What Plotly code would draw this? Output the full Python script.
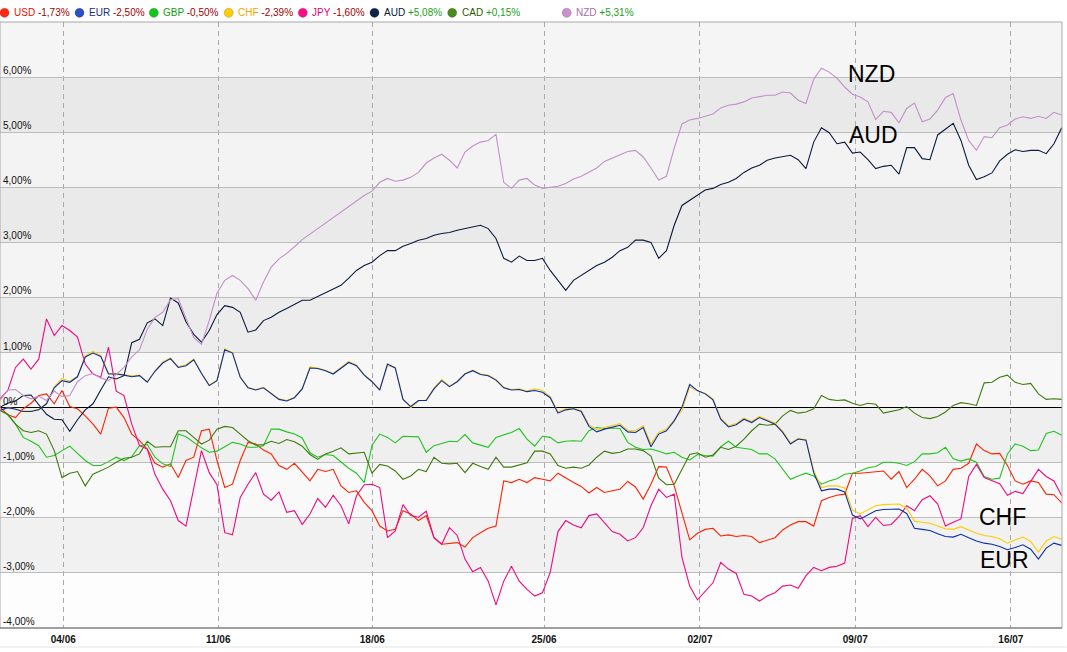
import plotly.graph_objects as go

# ---- data: % change per currency, one reading every quarter trading day ----
x_days = [k * 0.25 for k in range(138)]

usd = [0.01, -0.13, -0.18, -0.02, 0.08, 0.22, 0.25, 0.07, 0.31, 0.02, -0.02, -0.15, -0.3, -0.48, -0.01, 0.01, -0.18,
       -0.48, -0.6, -0.75, -1.01, -1.08, -1.02, -1.27, -0.96, -0.9, -0.42, -0.39, -0.96, -1.45, -1.39, -0.96, -0.63,
       -0.66, -0.77,
       -0.84, -1.05, -1.12, -1.01, -1.18, -1.33, -1.12, -1.16, -1.12, -1.42, -1.54, -1.51, -1.72, -1.87, -2.15, -2.24,
       -2.21, -1.87, -1.93, -2.05, -1.96, -2.36, -2.48, -2.47, -2.45, -2.53, -2.36, -2.27, -2.19, -2.15, -1.33, -1.36,
       -1.3, -1.36,
       -1.27, -1.3, -1.33, -1.19, -1.28, -1.36, -1.43, -1.55, -1.45, -1.54, -1.51, -1.48, -1.34, -1.44, -1.66, -1.39,
       -1.07, -1.08, -1.42, -1.9, -2.4, -2.28, -2.21, -2.19, -2.33, -2.31, -2.34, -2.32, -2.34, -2.45, -2.4, -2.36,
       -2.22, -2.13,
       -2.07, -2.07, -2.15, -1.69, -1.63, -1.59, -1.57, -1.19, -1.19, -1.18, -1.17, -1.15, -1.3, -1.16, -1.45, -1.3,
       -1.12, -1.24, -1.42, -1.33, -1.12, -1.1, -1.01, -0.66, -0.78, -0.84, -0.83, -1.05, -1.33, -1.39, -1.33, -1.36,
       -1.57, -1.58, -1.73]

eur = [-0.05, 0.0, -0.03, -0.07, -0.07, -0.04, 0.07, 0.36, 0.49, 0.46, 0.56, 0.92, 0.99, 0.93, 0.61, 0.61, 0.59, 0.56,
       0.58, 0.46, 0.66, 0.81, 0.89, 0.73, 0.76, 0.87, 0.62, 0.4, 0.49, 1.05, 0.99, 0.55, 0.36, 0.32, 0.36,
       0.25, 0.15, 0.12, 0.18, 0.34, 0.72, 0.71, 0.67, 0.61, 0.72, 0.82, 0.76, 0.59, 0.47, 0.32, 0.79, 0.72, 0.15,
       0.02, 0.13, 0.13, 0.34, 0.49, 0.38, 0.47, 0.61, 0.67, 0.6, 0.58, 0.5, 0.36, 0.32, 0.33, 0.29,
       0.31, 0.28, 0.18, -0.1, -0.04, -0.02, -0.07, -0.34, -0.44, -0.39, -0.36, -0.32, -0.44, -0.45, -0.36, -0.71,
       -0.48, -0.42, -0.24, 0.01, 0.42, 0.31, 0.25, 0.14, -0.21, -0.35, -0.31, -0.21, -0.27, -0.18, -0.24, -0.3,
       -0.45, -0.66,
       -0.57, -0.59, -1.18, -1.51, -1.48, -1.48, -1.53, -1.95, -2.02, -1.94, -1.87, -1.85, -1.85, -1.84, -1.92, -2.19,
       -2.21, -2.23, -2.29, -2.34, -2.35, -2.3, -2.36, -2.42, -2.46, -2.48, -2.52, -2.58, -2.54, -2.49, -2.57, -2.75,
       -2.55, -2.46, -2.5]

chf = [-0.05, 0.0, -0.02, -0.06, -0.06, -0.03, 0.08, 0.38, 0.53, 0.48, 0.57, 0.94, 1.02, 0.95, 0.62, 0.62, 0.6, 0.58,
       0.59, 0.47, 0.67, 0.83, 0.9, 0.74, 0.78, 0.88, 0.63, 0.41, 0.5, 1.07, 1.0, 0.56, 0.37, 0.33, 0.37,
       0.26, 0.16, 0.13, 0.19, 0.35, 0.74, 0.72, 0.68, 0.62, 0.73, 0.84, 0.77, 0.6, 0.48, 0.33, 0.76, 0.73, 0.16,
       0.0, 0.12, 0.14, 0.36, 0.51, 0.39, 0.48, 0.62, 0.68, 0.61, 0.59, 0.51, 0.37, 0.33, 0.34, 0.3,
       0.34, 0.31, 0.2, -0.08, -0.02, -0.01, -0.05, -0.31, -0.4, -0.36, -0.33, -0.29, -0.41, -0.42, -0.33, -0.66,
       -0.45, -0.39, -0.22, -0.05, 0.38, 0.3, 0.26, 0.16, -0.19, -0.33, -0.29, -0.19, -0.25, -0.16, -0.22, -0.28,
       -0.43, -0.64,
       -0.56, -0.58, -1.14, -1.45, -1.42, -1.42, -1.46, -1.86, -1.93, -1.85, -1.78, -1.76, -1.76, -1.75, -1.82, -2.06,
       -2.08, -2.1, -2.15, -2.2, -2.21, -2.16, -2.22, -2.28, -2.32, -2.34, -2.38, -2.46, -2.4, -2.35, -2.43, -2.62,
       -2.42, -2.34, -2.39]

gbp = [-0.05, -0.13, -0.3, -0.54, -0.61, -0.69, -0.9, -0.87, -0.78, -0.7, -0.83, -0.96, -1.05, -1.05, -0.98, -0.9,
       -0.96, -0.89, -0.69, -0.67, -0.9, -1.02, -1.07, -0.48, -0.53, -0.63, -0.73, -0.81, -0.79, -0.71, -0.63, -0.66,
       -0.72, -0.72, -0.69,
       -0.39, -0.39, -0.44, -0.48, -0.55, -0.82, -0.9, -0.85, -0.87, -0.99, -1.1, -1.19, -1.36, -0.68, -0.48, -0.54,
       -0.64, -0.52, -0.52, -0.53, -0.81, -0.69, -0.65, -0.61, -0.62, -0.49, -0.64, -0.68, -0.72, -0.54, -0.49, -0.45,
       -0.38, -0.57,
       -0.7, -0.52, -0.54, -0.64, -0.61, -0.6, -0.61, -0.42, -0.36, -0.38, -0.37, -0.38, -0.63, -0.72, -0.76, -0.75,
       -0.79, -0.84, -0.81, -0.9, -0.95, -0.85, -0.87, -0.88, -0.71, -0.61, -0.72, -0.74, -0.76, -0.84, -0.84, -0.93,
       -1.12, -1.3,
       -1.24, -1.19, -1.24, -1.39, -1.33, -1.29, -1.21, -1.19, -1.15, -1.09, -1.07, -0.99, -0.99, -1.01, -1.05, -0.98,
       -0.84, -0.84, -0.82, -0.72, -0.93, -0.97, -0.93, -0.99, -1.25, -1.3, -1.28, -0.84, -0.66, -0.7, -0.78, -0.77,
       -0.47, -0.43, -0.5]

jpy = [0.16, 0.31, 0.73, 0.88, 0.7, 0.88, 1.61, 1.31, 1.49, 1.4, 1.28, 0.79, 0.61, 0.55, 1.1, 0.3, 0.22, -0.3, -0.69,
       -0.75, -1.21, -1.48, -1.69, -2.05, -2.15, -1.45, -0.78, -1.18, -1.4, -2.27, -2.31, -1.63, -1.39, -1.18, -1.57,
       -1.68, -1.53, -1.9, -1.87, -2.12, -1.93, -1.65, -1.81, -1.59, -1.78, -2.11, -1.6, -1.4, -1.39, -1.45, -2.36,
       -2.24, -1.76, -1.96, -1.99, -1.88, -2.36, -2.48, -2.18, -2.32, -2.75, -2.98, -2.9, -3.15, -3.58, -3.15, -2.88,
       -3.15, -3.3,
       -3.42, -3.36, -2.99, -2.25, -2.05, -2.13, -2.18, -1.96, -1.93, -2.1, -2.25, -2.3, -2.42, -2.36, -2.18, -1.78,
       -1.48, -1.63, -1.57, -2.72, -3.24, -3.49, -3.33, -3.18, -2.81, -2.93, -3.01, -3.39, -3.42, -3.51, -3.42, -3.36,
       -3.24, -3.22,
       -3.28, -3.05, -2.9, -2.96, -2.9, -2.88, -2.82, -2.01, -1.96, -2.16, -1.99, -2.14, -2.12, -1.98, -1.78, -1.87,
       -1.67, -1.6, -1.75, -2.15, -2.08, -2.02, -1.25, -1.03, -1.27, -1.33, -1.38, -1.59, -1.52, -1.56, -1.33, -1.12,
       -1.25, -1.33, -1.6]

aud = [0.01, 0.08, 0.12, 0.22, 0.23, 0.05, -0.12, -0.21, -0.22, -0.43, -0.22, -0.04, 0.07, 0.32, 0.56, 0.52, 0.58,
       1.18, 1.24, 1.54, 1.61, 1.49, 1.99, 1.9, 1.56, 1.33, 1.19, 1.4, 1.69, 1.85, 1.82, 1.73, 1.37, 1.41, 1.58,
       1.64, 1.73, 1.8, 1.87, 1.95, 1.95, 2.02, 2.09, 2.16, 2.22, 2.35, 2.49, 2.58, 2.64, 2.76, 2.85, 2.85, 2.93,
       2.98, 3.04, 3.07, 3.13, 3.16, 3.18, 3.22, 3.25, 3.29, 3.31, 3.25, 3.07, 2.71, 2.64, 2.75, 2.67,
       2.67, 2.71, 2.49, 2.31, 2.13, 2.31, 2.4, 2.49, 2.58, 2.64, 2.73, 2.85, 2.91, 3.04, 3.04, 3.0, 2.71, 2.85,
       3.31, 3.67, 3.76, 3.85, 3.95, 3.98, 4.05, 4.09, 4.16, 4.27, 4.35, 4.4, 4.49, 4.53, 4.56, 4.58,
       4.5, 4.34, 4.82, 5.08, 4.99, 4.79, 4.82, 4.62, 4.64, 4.5, 4.34, 4.38, 4.4, 4.24, 4.72, 4.72, 4.52, 4.5, 4.95,
       5.05, 5.16, 4.85, 4.4, 4.14, 4.19, 4.26, 4.48, 4.6, 4.68, 4.65, 4.67, 4.67, 4.61, 4.79, 5.08]

cad = [-0.05, -0.12, -0.3, -0.42, -0.45, -0.42, -0.48, -0.78, -1.27, -1.19, -1.16, -1.42, -1.21, -1.15, -1.08, -0.99,
       -0.92, -0.9, -0.84, -0.61, -0.72, -0.71, -0.71, -0.42, -0.42, -0.54, -0.66, -0.59, -0.39, -0.34, -0.36, -0.48,
       -0.6, -0.68, -0.67,
       -0.61, -0.65, -0.58, -0.62, -0.7, -0.85, -0.94, -0.84, -0.79, -0.73, -0.84, -0.83, -0.81, -1.19, -1.03, -1.06,
       -1.15, -1.3, -1.24, -1.12, -1.16, -0.9, -1.01, -1.02, -1.01, -1.18, -1.01, -1.07, -1.12, -0.9, -1.08, -1.08,
       -1.04, -1.0,
       -0.79, -0.79, -0.84, -1.05, -1.1, -1.08, -1.1, -1.04, -0.9, -0.79, -0.83, -0.81, -0.75, -0.75, -0.78, -0.88,
       -1.28, -1.4, -1.39, -1.13, -0.85, -0.82, -0.9, -0.86, -0.72, -0.76, -0.7, -0.57, -0.42, -0.3, -0.32, -0.3,
       -0.15, -0.05,
       -0.1, -0.08, -0.02, 0.22, 0.15, 0.13, 0.14, 0.08, 0.04, 0.08, 0.06, -0.1, -0.07, -0.04, 0.02, -0.1, -0.18,
       -0.2, -0.16, -0.08, 0.04, 0.09, 0.07, 0.04, 0.45, 0.46, 0.55, 0.59, 0.46, 0.42, 0.44, 0.25, 0.15, 0.16, 0.15]

nzd = [0.13, 0.32, 0.33, 0.22, 0.16, 0.21, 0.13, 0.3, 0.2, 0.22, 0.47, 0.58, 0.62, 0.54, 0.49, 0.6, 0.73, 0.92, 1.05,
       1.42, 1.64, 1.73, 1.96, 1.98, 1.62, 1.27, 1.15, 1.58, 2.08, 2.31, 2.4, 2.31, 2.16, 1.95, 2.28,
       2.55, 2.7, 2.8, 2.92, 3.05, 3.15, 3.25, 3.36, 3.45, 3.55, 3.65, 3.75, 3.85, 3.93, 4.09, 4.16, 4.11, 4.13,
       4.18, 4.27, 4.44, 4.53, 4.6, 4.49, 4.35, 4.64, 4.75, 4.82, 4.85, 4.96, 4.09, 3.98, 4.13, 4.16,
       4.04, 3.98, 4.0, 4.02, 4.07, 4.15, 4.2, 4.27, 4.35, 4.47, 4.53, 4.58, 4.65, 4.67, 4.55, 4.35, 4.13, 4.2,
       4.71, 5.15, 5.22, 5.25, 5.29, 5.33, 5.44, 5.49, 5.51, 5.55, 5.62, 5.65, 5.67, 5.67, 5.73, 5.71,
       5.58, 5.52, 5.96, 6.16, 6.09, 5.98, 5.82, 5.69, 5.64, 5.55, 5.23, 5.38, 5.36, 5.17, 5.43, 5.53, 5.19, 5.24,
       5.4, 5.63, 5.7, 5.22, 4.85, 4.67, 4.92, 4.9, 5.08, 5.13, 5.24, 5.28, 5.25, 5.29, 5.25, 5.36, 5.31]

currencies = ["USD", "EUR", "GBP", "CHF", "JPY", "AUD", "CAD", "NZD"]
changes = ["-1,73%", "-2,50%", "-0,50%", "-2,39%", "-1,60%", "+5,08%", "+0,15%", "+5,31%"]

x_tick_pos = [2.04, 7.04, 12.01, 17.55, 22.58, 27.59, 32.61]
x_tick_labels = ["04/06", "11/06", "18/06", "25/06", "02/07", "09/07", "16/07"]
y_tick_vals = [-4, -3, -2, -1, 0, 1, 2, 3, 4, 5, 6]
y_tick_labels = ["-4,00%", "-3,00%", "-2,00%", "-1,00%", "0%", "1,00%", "2,00%", "3,00%", "4,00%", "5,00%", "6,00%"]

# ---- styles ----
series = {"USD": usd, "EUR": eur, "GBP": gbp, "CHF": chf, "JPY": jpy, "AUD": aud, "CAD": cad, "NZD": nzd}
line_colors = {"USD": "#ff2200", "EUR": "#0a2ea8", "GBP": "#1fc41f", "CHF": "#ffcc00",
               "JPY": "#ee0a80", "AUD": "#0b1a3c", "CAD": "#3f7a0c", "NZD": "#c290c9"}
dot_colors = {"USD": "#ff2a10", "EUR": "#2a50c8", "GBP": "#10c81a", "CHF": "#ffcc00",
              "JPY": "#ff0a8a", "AUD": "#0d2448", "CAD": "#4c8a1c", "NZD": "#cc90cc"}
name_colors = {"USD": "#e81000", "EUR": "#1a2a90", "GBP": "#10a010", "CHF": "#f0a800",
               "JPY": "#e0007a", "AUD": "#061838", "CAD": "#2a5a00", "NZD": "#a070b0"}
draw_order = ["USD", "GBP", "CAD", "JPY", "CHF", "EUR", "AUD", "NZD"]

FONT = "Liberation Sans, Arial, Helvetica, sans-serif"
W, H = 1067, 652
ML, MR, MT, MB = 0, 5, 22, 24
PW, PH = W - ML - MR, H - MT - MB

fig = go.Figure()
for c in draw_order:
    fig.add_trace(go.Scatter(x=x_days, y=series[c], mode="lines", name=c,
                             line=dict(color=line_colors[c], width=1.1), showlegend=False))

shapes = []
band_colors = {-4: "#fdfdfd", -3: "#f1f1f1", -2: "#f9f9f9", -1: "#efefef", 0: "#f7f7f7",
               1: "#ececec", 2: "#f4f4f4", 3: "#eaeaea", 4: "#f3f3f3", 5: "#e9e9e9", 6: "#f5f5f5"}
for lo, col in band_colors.items():
    shapes.append(dict(type="rect", xref="paper", yref="y", x0=0, x1=1, y0=lo, y1=lo + 1,
                       fillcolor=col, line=dict(width=0), layer="below"))
shapes.append(dict(type="rect", xref="paper", yref="paper", x0=0, x1=1, y0=0, y1=1,
                   line=dict(color="#a8a8a8", width=1), layer="above"))
shapes.append(dict(type="line", xref="paper", yref="paper", x0=0, x1=1, y0=0, y1=0,
                   line=dict(color="#6e6e6e", width=1.2), layer="above"))
shapes.append(dict(type="line", xref="paper", yref="paper", x0=0, x1=1.004,
                   y0=-(647 - (MT + PH)) / PH, y1=-(647 - (MT + PH)) / PH,
                   line=dict(color="#e2e2e2", width=1)))

annotations = []
# y tick labels sit inside the plot, just above their gridline
for v, lab in zip(y_tick_vals, y_tick_labels):
    annotations.append(dict(xref="paper", yref="y", x=0, y=v, xanchor="left", yanchor="bottom",
                            xshift=1, yshift=-1, showarrow=False, text=lab,
                            font=dict(family=FONT, size=10, color="#111111")))

# legend (dot + coloured name + coloured change)
legend_px = [4.5, 79.5, 153.8, 228.7, 302.8, 374.5, 452.2, 566.7]
legend_y = (MT + PH - 12.8) / PH
for c, chg, px in zip(currencies, changes, legend_px):
    shapes.append(dict(type="circle", xref="paper", yref="paper",
                       xsizemode="pixel", ysizemode="pixel",
                       xanchor=px / PW, yanchor=legend_y, x0=-4.6, x1=4.6, y0=-4.6, y1=4.6,
                       fillcolor=dot_colors[c], line=dict(color="rgba(0,0,0,0.25)", width=0.6)))
    vcol = "#1aa01a" if chg.startswith("+") else "#a00000"
    annotations.append(dict(xref="paper", yref="paper", x=(px + 7.5) / PW, y=legend_y,
                            xanchor="left", yanchor="middle", showarrow=False,
                            text=f"<span style='color:{name_colors[c]}'>{c}</span> "
                                 f"<span style='color:{vcol}'>{chg}</span>",
                            font=dict(family=FONT, size=10)))

# big series labels
for txt, px, py in [("NZD", 846, 73.5), ("AUD", 847, 135), ("CHF", 977, 516.5), ("EUR", 978, 559.5)]:
    annotations.append(dict(xref="paper", yref="paper", x=px / PW, y=(MT + PH - py) / PH,
                            xanchor="left", yanchor="middle", showarrow=False, text=txt,
                            font=dict(family=FONT, size=23, color="#000000")))

fig.update_layout(
    width=W, height=H, margin=dict(l=ML, r=MR, t=MT, b=MB, autoexpand=False),
    paper_bgcolor="#ffffff", plot_bgcolor="#ffffff",
    showlegend=False, shapes=shapes, annotations=annotations,
    font=dict(family=FONT, size=10, color="#111111"),
    xaxis=dict(range=[0, 34.26], tickvals=x_tick_pos, ticktext=[f"<b>{t}</b>" for t in x_tick_labels],
               showgrid=True, gridcolor="#a9a9a9", griddash="5px,4px", gridwidth=1,
               zeroline=False, showline=False, ticks="", ticklabelstandoff=4,
               tickfont=dict(family=FONT, size=10, color="#111111")),
    yaxis=dict(range=[-4, 7], tickvals=y_tick_vals, showticklabels=False,
               showgrid=True, gridcolor="#bdbdbd", gridwidth=1,
               zeroline=True, zerolinecolor="#000000", zerolinewidth=1,
               ticks="", showline=False),
)

fig.write_html("out.html")
